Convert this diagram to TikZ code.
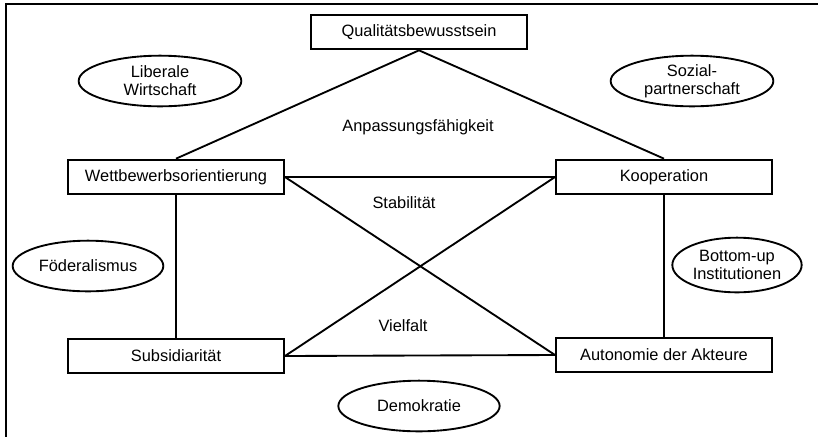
\documentclass[tikz,border=0pt]{standalone}
\usepackage{fontspec}
\setmainfont{Liberation Sans}
\usetikzlibrary{shapes.geometric}
\begin{document}
\begin{tikzpicture}[x=0.75pt,y=-0.75pt,
  every node/.style={font=\fontsize{12.3}{13.5}\selectfont},
  boxnode/.style={draw,line width=1.5pt,inner sep=0pt,minimum width=162pt,minimum height=26pt},
  ovalnode/.style={draw,ellipse,line width=1.4pt,inner sep=0pt,align=center,minimum height=38pt},
  conn/.style={line width=1.4pt},
  lbl/.style={inner sep=1pt}]
\useasboundingbox (0,0) rectangle (818,437);
\draw[line width=1.6pt] (5,4) -- (818,4);
\draw[line width=1.6pt] (6,4) -- (6,437);
\node[boxnode] (Q) at (419,32) {Qualitätsbewusstsein};
\node[boxnode] (W) at (176,177) {Wettbewerbsorientierung};
\node[boxnode] (K) at (664,177) {Kooperation};
\node[boxnode] (S) at (176,356) {Subsidiarität};
\node[boxnode] (A) at (664,355) {Autonomie der Akteure};
\node[ovalnode,minimum width=122pt] (LW) at (160,81) {Liberale\\Wirtschaft};
\node[ovalnode,minimum width=122pt] (SP) at (692,81) {Sozial-\\partnerschaft};
\node[ovalnode,minimum width=113pt] (FO) at (88,266) {Föderalismus};
\node[ovalnode,minimum width=97pt,minimum height=41pt] (BU) at (737,265) {Bottom-up\\Institutionen};
\node[ovalnode,minimum width=121pt] (DE) at (419,406) {Demokratie};
\node[lbl] (AF) at (418,127) {Anpassungsfähigkeit};
\node[lbl] (ST) at (404,203) {Stabilität};
\node[lbl] (VF) at (403,326) {Vielfalt};
\draw[conn] (W.north) -- (Q.south) -- (K.north);
\draw[conn] (W.east) -- (K.west);
\draw[conn] (W.east) -- (A.west);
\draw[conn] (S.east) -- (K.west);
\draw[conn] (S.east) -- (A.west);
\draw[conn] (W.south) -- (S.north);
\draw[conn] (K.south) -- (A.north);
\end{tikzpicture}
\end{document}
